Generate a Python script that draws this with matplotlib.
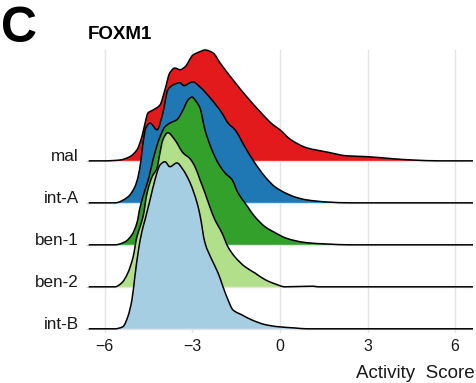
import matplotlib
matplotlib.use("Agg")
import matplotlib.pyplot as plt
from matplotlib.path import Path
from matplotlib.patches import PathPatch
import numpy as np

plt.rcParams['font.family'] = ['Liberation Sans', 'DejaVu Sans']

categories = ["mal", "int-A", "ben-1", "ben-2", "int-B"]
colors = ["#E31A1C", "#1F78B4", "#33A02C", "#B2DF8A", "#A6CEE3"]

mal_x = [-6.55, -6.0, -5.48, -5.14, -4.90, -4.73, -4.62, -4.52, -4.35, -4.11, -3.94, -3.77,
         -3.60, -3.42, -3.25, -2.98, -2.74, -2.57, -2.29, -2.05, -1.61, -1.13, -0.68, -0.24,
         0.0, 0.34, 0.92, 1.61, 2.29, 2.98, 3.87, 4.55, 5.48, 6.61]
mal_h = [0, 0, 0.02, 0.10, 0.26, 0.57, 0.90, 1.14, 1.21, 1.33, 1.69, 2.10,
         2.21, 2.17, 2.24, 2.52, 2.60, 2.64, 2.57, 2.33, 1.93, 1.52, 1.17, 0.86,
         0.74, 0.52, 0.31, 0.21, 0.12, 0.10, 0.05, 0.02, 0, 0]

intA_x = [-6.55, -5.65, -5.21, -4.97, -4.86, -4.76, -4.69, -4.59, -4.45, -4.21, -4.01, -3.84,
          -3.66, -3.42, -3.29, -3.08, -2.98, -2.74, -2.33, -1.99, -1.78, -1.54, -1.20, -0.86,
          -0.51, -0.17, 0.17, 0.51, 0.92, 1.61, 2.40, 6.61]
intA_h = [0, 0, 0.14, 0.38, 0.62, 1.02, 1.43, 1.79, 1.90, 1.74, 2.14, 2.69,
          2.81, 2.86, 2.79, 2.86, 2.88, 2.76, 2.45, 2.14, 1.90, 1.74, 1.33, 0.95,
          0.62, 0.38, 0.24, 0.14, 0.07, 0.02, 0, 0]

ben1_x = [-6.55, -5.65, -5.31, -5.07, -4.90, -4.79, -4.62, -4.49, -4.35, -4.11, -3.94, -3.77,
          -3.53, -3.32, -3.15, -3.01, -2.91, -2.74, -2.57, -2.33, -2.12, -1.88, -1.64, -1.44,
          -1.20, -0.86, -0.51, -0.17, 0.17, 0.51, 0.92, 1.61, 2.40, 6.61]
ben1_h = [0, 0, 0.07, 0.24, 0.52, 0.90, 1.31, 1.60, 2.02, 2.57, 2.81, 2.90,
          2.98, 3.21, 3.45, 3.52, 3.45, 3.26, 2.74, 2.26, 1.95, 1.71, 1.55, 1.24,
          1.00, 0.67, 0.43, 0.29, 0.17, 0.10, 0.05, 0.02, 0, 0]

ben2_x = [-6.55, -5.65, -5.41, -5.21, -5.03, -4.90, -4.79, -4.69, -4.55, -4.38, -4.21, -4.11,
          -4.01, -3.84, -3.60, -3.32, -3.08, -2.91, -2.74, -2.57, -2.40, -2.23, -1.99, -1.78,
          -1.54, -1.20, -0.86, -0.51, -0.17, 0.17, 1.13, 1.30, 6.61]
ben2_h = [0, 0, 0.10, 0.33, 0.71, 1.19, 1.43, 1.67, 2.24, 2.62, 2.83, 3.19,
          3.50, 3.67, 3.50, 3.19, 3.05, 2.86, 2.55, 2.24, 1.90, 1.60, 1.29, 0.95,
          0.71, 0.48, 0.33, 0.17, 0.07, 0.0, 0.015, 0.0, 0]

intB_x = [-6.55, -5.65, -5.38, -5.21, -5.07, -4.97, -4.86, -4.73, -4.62, -4.45, -4.28, -4.11,
          -3.94, -3.77, -3.53, -3.32, -3.08, -2.84, -2.74, -2.57, -2.33, -2.12, -1.95, -1.78,
          -1.61, -1.30, -0.96, -0.51, -0.07, 0.51, 0.92, 6.61]
intB_h = [0, 0, 0.05, 0.29, 0.69, 1.24, 1.81, 2.31, 2.60, 3.07, 3.55, 3.90,
          3.98, 3.86, 3.95, 3.79, 3.48, 3.00, 2.71, 2.05, 1.64, 1.33, 1.00, 0.69,
          0.45, 0.33, 0.21, 0.10, 0.05, 0.02, 0, 0]

series_x = [mal_x, intA_x, ben1_x, ben2_x, intB_x]
series_h = [mal_h, intA_h, ben1_h, ben2_h, intB_h]
positions = [4, 3, 2, 1, 0]

x_ticks = [-6, -3, 0, 3, 6]


def smooth_path(xs, ys):
    """Monotone cubic Bezier path through the read points (drawing style only)."""
    xs = np.asarray(xs, float)
    ys = np.asarray(ys, float)
    n = len(xs)
    h = np.diff(xs)
    d = np.diff(ys) / h
    m = np.zeros(n)
    for k in range(1, n - 1):
        if d[k - 1] * d[k] > 0:
            w1 = 2 * h[k] + h[k - 1]
            w2 = h[k] + 2 * h[k - 1]
            m[k] = (w1 + w2) / (w1 / d[k - 1] + w2 / d[k])
    verts = [(xs[0], ys[0])]
    codes = [Path.MOVETO]
    for k in range(n - 1):
        verts += [(xs[k] + h[k] / 3, ys[k] + m[k] * h[k] / 3),
                  (xs[k + 1] - h[k] / 3, ys[k + 1] - m[k + 1] * h[k] / 3),
                  (xs[k + 1], ys[k + 1])]
        codes += [Path.CURVE4] * 3
    return verts, codes


W, H = 476, 383
fig = plt.figure(figsize=(W / 100, H / 100), dpi=100)
ax = fig.add_axes([89 / W, 1 - 333 / H, (473 - 89) / W, (333 - 50) / H])
ax.set_xlim(-6.54, 6.61)
ax.set_ylim(-0.1, 6.64)

for xt in x_ticks:
    ax.axvline(xt, color="#E3E3E3", lw=1.0, zorder=0)
for p in positions:
    ax.axhline(p, color="#E3E3E3", lw=1.0, zorder=0)

for i, (xs, hs, p, c) in enumerate(zip(series_x, series_h, positions, colors)):
    ys = p + np.asarray(hs, float)
    verts, codes = smooth_path(xs, ys)
    fverts = verts + [(xs[-1], p), (xs[0], p), (xs[0], p)]
    fcodes = codes + [Path.LINETO, Path.LINETO, Path.CLOSEPOLY]
    ax.add_patch(PathPatch(Path(fverts, fcodes), facecolor=c, edgecolor="none",
                           lw=0, zorder=2 + 2 * i))
    ax.add_patch(PathPatch(Path(verts, codes), facecolor="none", edgecolor="black",
                           lw=1.1, zorder=3 + 2 * i, clip_on=False, joinstyle="round"))

for s in ax.spines.values():
    s.set_visible(False)

ax.set_xticks(x_ticks)
ax.set_xticklabels([f"{t}".replace("-", "\u2212") for t in x_ticks])
ax.set_yticks(positions)
ax.set_yticklabels(categories)
ax.tick_params(axis="x", length=0, pad=4, labelsize=11.5, colors="#1a1a1a")
ax.tick_params(axis="y", length=2.5, width=0.8, color="#D0D0D0", pad=5, labelsize=12.3,
               labelcolor="#1a1a1a")
for lbl in ax.get_yticklabels():
    lbl.set_verticalalignment("baseline")

fig.text(475 / W, 1 - 378.5 / H, "Activity  Score", ha="right", va="baseline",
         fontsize=13.5, color="#1a1a1a")
fig.text(1 / W, 1 - 42 / H, "C", ha="left", va="baseline", fontsize=36, weight="bold")
fig.text(88 / W, 1 - 39 / H, "FOXM1", ha="left", va="baseline", fontsize=13.5, weight="bold")

fig.savefig("out.png", dpi=100)
